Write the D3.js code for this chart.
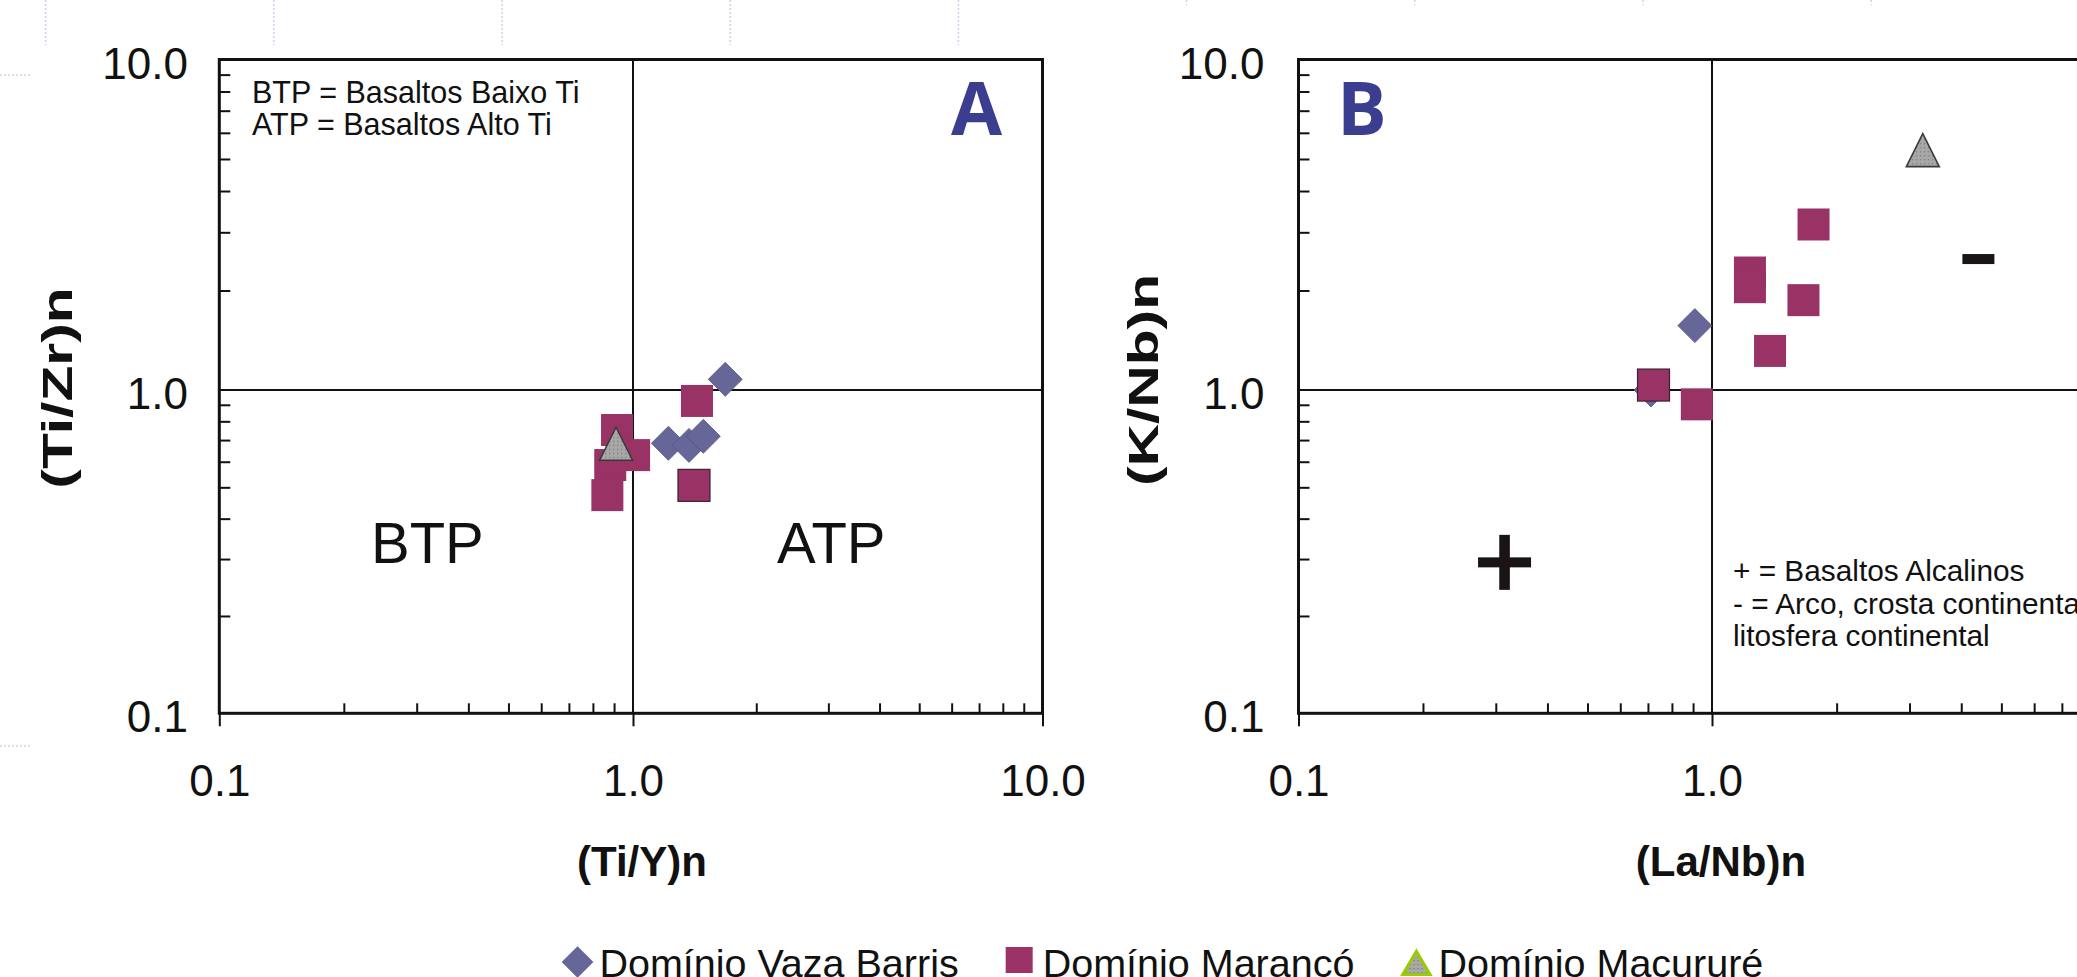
<!DOCTYPE html>
<html><head><meta charset="utf-8">
<script src="https://cdn.jsdelivr.net/npm/d3@7"></script>
<style>html,body{margin:0;padding:0;background:#fff;overflow:hidden}</style>
</head><body>
<svg id="c" width="2077" height="977"></svg>
<script>
// ---------------- DATA ----------------
const seriesNames = ["Domínio Vaza Barris", "Domínio Marancó", "Domínio Macururé"];
const majorTicks = [0.1, 1, 10];
const majorTickLabels = ["0.1", "1.0", "10.0"];
const minorTicks = [0.2, 0.3, 0.4, 0.5, 0.6, 0.7, 0.8, 0.9, 2, 3, 4, 5, 6, 7, 8, 9];

// Panel A: (Ti/Y)n vs (Ti/Zr)n
const plotA_vazaBarris = [[1.68, 1.077], [1.22, 0.684], [1.37, 0.674], [1.485, 0.719]];
const plotA_maranco = [[1.433, 0.925], [0.915, 0.752], [1.006, 0.629], [0.881, 0.586], [0.867, 0.473]];
const plotA_marancoOutlined = [[1.409, 0.507]];
const plotA_macurure = [[0.910, 0.682]];

// Panel B: (La/Nb)n vs (K/Nb)n
const plotB_vazaBarris = [[0.712, 1.0], [0.909, 1.566]];
const plotB_maranco = [[0.919, 0.903], [1.235, 2.267], [1.235, 2.047], [1.381, 1.313], [1.663, 1.870], [1.759, 3.168]];
const plotB_marancoOutlined = [[0.722, 1.035]];
const plotB_macurure = [[3.23, 5.32]];
const plotB_alkaliBasalt = [[0.315, 0.293]];   // "+"
const plotB_arcCrust = [[4.40, 2.49]];         // "-"

const notesA = ["BTP = Basaltos Baixo Ti", "ATP = Basaltos Alto Ti"];
const notesB = ["+ = Basaltos Alcalinos", "- = Arco, crosta continental e", "litosfera continental"];
const regionLabelsA = ["BTP", "ATP"];

// ---------------- STYLE ----------------
const W = 2077, H = 977;
const FONT = "'Liberation Sans', Arial, Helvetica, sans-serif";
const COL_VAZA = "#666699", COL_MAR = "#993366", COL_LETTER = "#3b3d8f";

const svg = d3.select("#c");
const defs = svg.append("defs");
const pat = defs.append("pattern").attr("id", "dots").attr("width", 4).attr("height", 4)
  .attr("patternUnits", "userSpaceOnUse");
pat.append("rect").attr("width", 4).attr("height", 4).attr("fill", "#a8a8a8");
pat.append("rect").attr("x", 1).attr("y", 1).attr("width", 1.3).attr("height", 1.3).attr("fill", "#7c7c7c");

// slide background artefacts (faint dashed guides)
const bg = svg.append("g").attr("stroke", "#c9d3f0").attr("stroke-width", 1.5).attr("stroke-dasharray", "2,2");
d3.range(9).forEach(k => {
  const xx = 45.6 + 228.2 * k;
  bg.append("line").attr("x1", xx).attr("x2", xx).attr("y1", 0).attr("y2", k < 5 ? 45 : 5);
});
bg.append("line").attr("x1", 0).attr("x2", 32).attr("y1", 75).attr("y2", 75);
bg.append("line").attr("x1", 0).attr("x2", 32).attr("y1", 746).attr("y2", 746);

function diamondPath(d) { const h = d / 2; return `M0,${-h}L${h},0L0,${h}L${-h},0Z`; }
function trianglePath(w, h) { return `M0,${-h / 2}L${w / 2},${h / 2}L${-w / 2},${h / 2}Z`; }

const panels = [
  { key: "A", xRange: [219.3, 633, 1042.5], yRange: [713.3, 390, 59.5],
    xTitle: "(Ti/Y)n", yTitle: "(Ti/Zr)n", yLabelGap: 31.3, yTitleX: 72, yTitleY: 388,
    vaza: plotA_vazaBarris, mar: plotA_maranco, marOut: plotA_marancoOutlined, mac: plotA_macurure,
    squaresFirst: true, letterX: 951 },
  { key: "B", xRange: [1298.5, 1712, 2126], yRange: [713.3, 390, 59.5],
    xTitle: "(La/Nb)n", yTitle: "(K/Nb)n", yLabelGap: 34, yTitleX: 1158, yTitleY: 380,
    vaza: plotB_vazaBarris, mar: plotB_maranco, marOut: plotB_marancoOutlined, mac: plotB_macurure,
    squaresFirst: false, letterX: 1337 }
];

panels.forEach(p => {
  const x = d3.scaleLog().domain(majorTicks).range(p.xRange);
  const y = d3.scaleLog().domain(majorTicks).range(p.yRange);
  const g = svg.append("g");
  const x0 = x(0.1), x1 = x(10), yb = y(0.1), yt = y(10);

  // minor ticks (inside)
  g.append("g").attr("transform", `translate(0,${yb})`)
    .call(d3.axisBottom(x).tickValues(minorTicks).tickSize(-10).tickFormat(""))
    .call(s => s.select(".domain").remove())
    .call(s => s.selectAll("line").attr("stroke", "#111").attr("stroke-width", 2));
  g.append("g").attr("transform", `translate(${x0},0)`)
    .call(d3.axisLeft(y).tickValues(minorTicks).tickSize(-11).tickFormat(""))
    .call(s => s.select(".domain").remove())
    .call(s => s.selectAll("line").attr("stroke", "#111").attr("stroke-width", 2));

  // major x ticks + labels
  const xa = g.append("g").attr("transform", `translate(0,${yb})`)
    .call(d3.axisBottom(x).tickValues(majorTicks).tickSize(13).tickPadding(0)
      .tickFormat(d => majorTickLabels[majorTicks.indexOf(d)]));
  xa.select(".domain").remove();
  xa.attr("font-family", FONT).attr("font-size", 44);
  xa.selectAll("line").attr("stroke", "#111").attr("stroke-width", 2);
  xa.selectAll("text").attr("dy", null).attr("y", 83.2).attr("fill", "#111");

  // y labels
  const ya = g.append("g").attr("transform", `translate(${x0},0)`)
    .call(d3.axisLeft(y).tickValues(majorTicks).tickSize(0).tickPadding(0)
      .tickFormat(d => majorTickLabels[majorTicks.indexOf(d)]));
  ya.select(".domain").remove();
  ya.attr("font-family", FONT).attr("font-size", 44);
  ya.selectAll("text").attr("dy", null).attr("x", -p.yLabelGap).attr("y", 18.5).attr("fill", "#111");

  // quadrant lines
  g.append("line").attr("x1", x(1)).attr("x2", x(1)).attr("y1", yt).attr("y2", yb)
    .attr("stroke", "#111").attr("stroke-width", 2);
  g.append("line").attr("x1", x0).attr("x2", x1).attr("y1", y(1)).attr("y2", y(1))
    .attr("stroke", "#111").attr("stroke-width", 2);
  // frame
  g.append("rect").attr("x", x0).attr("y", yt).attr("width", x1 - x0).attr("height", yb - yt)
    .attr("fill", "none").attr("stroke", "#111").attr("stroke-width", 3);

  // markers
  const drawSquares = () => {
    g.append("g").selectAll("rect").data(p.mar).join("rect")
      .attr("x", d => x(d[0]) - 16).attr("y", d => y(d[1]) - 16)
      .attr("width", 32).attr("height", 32).attr("fill", COL_MAR);
    g.append("g").selectAll("rect").data(p.marOut).join("rect")
      .attr("x", d => x(d[0]) - 16).attr("y", d => y(d[1]) - 16)
      .attr("width", 32).attr("height", 32).attr("fill", COL_MAR)
      .attr("stroke", "#3a2230").attr("stroke-width", 1.2);
  };
  const drawDiamonds = () => {
    g.append("g").selectAll("path").data(p.vaza).join("path")
      .attr("d", diamondPath(34))
      .attr("transform", d => `translate(${x(d[0])},${y(d[1])})`)
      .attr("fill", COL_VAZA).attr("stroke", "#55557f").attr("stroke-width", 0.8);
  };
  if (p.squaresFirst) { drawSquares(); drawDiamonds(); } else { drawDiamonds(); drawSquares(); }
  g.append("g").selectAll("path").data(p.mac).join("path")
    .attr("d", trianglePath(33, 33))
    .attr("transform", d => `translate(${x(d[0])},${y(d[1])})`)
    .attr("fill", "url(#dots)").attr("stroke", "#3a3a3a").attr("stroke-width", 1.6)
    .attr("stroke-linejoin", "miter");

  // axis titles
  g.append("text").attr("x", x(1) + 9).attr("y", 876).attr("text-anchor", "middle")
    .attr("font-family", FONT).attr("font-weight", "bold").attr("font-size", 42).attr("fill", "#111")
    .text(p.xTitle);
  g.append("text").attr("transform", `translate(${p.yTitleX},${p.yTitleY}) rotate(-90) scale(1.4,1)`)
    .attr("text-anchor", "middle")
    .attr("font-family", FONT).attr("font-weight", "bold").attr("font-size", 42).attr("fill", "#111")
    .text(p.yTitle);

  // panel letter
  g.append("text").attr("x", p.letterX).attr("y", 135)
    .attr("font-family", "'Open Sans', 'Liberation Sans', Arial, sans-serif").attr("font-weight", "bold")
    .attr("font-size", 74).attr("fill", COL_LETTER).text(p.key);

  p.x = x; p.y = y; p.g = g;
});

// Panel A annotations
{
  const g = panels[0].g;
  g.append("g").selectAll("text").data(notesA).join("text")
    .attr("x", 252).attr("y", (d, i) => 102.5 + i * 32.5)
    .attr("font-family", FONT).attr("font-size", 30.5).attr("fill", "#111").text(d => d);
  g.append("g").selectAll("text").data(regionLabelsA).join("text")
    .attr("x", (d, i) => [371, 777][i]).attr("y", 563)
    .attr("font-family", FONT).attr("font-size", 58).attr("fill", "#111").text(d => d);
}
// Panel B annotations + reference symbols
{
  const p = panels[1], g = p.g, x = p.x, y = p.y;
  g.append("g").selectAll("text").data(notesB).join("text")
    .attr("x", 1733).attr("y", (d, i) => 581 + i * 32.5)
    .attr("font-family", FONT).attr("font-size", 29.8).attr("fill", "#111").text(d => d);
  const plus = g.append("g").selectAll("g").data(plotB_alkaliBasalt).join("g")
    .attr("transform", d => `translate(${x(d[0])},${y(d[1])})`);
  plus.append("rect").attr("x", -26.5).attr("y", -5).attr("width", 53).attr("height", 10).attr("fill", "#1a1414");
  plus.append("rect").attr("x", -5.3).attr("y", -27.5).attr("width", 10.6).attr("height", 55).attr("fill", "#1a1414");
  g.append("g").selectAll("rect").data(plotB_arcCrust).join("rect")
    .attr("x", d => x(d[0]) - 16).attr("y", d => y(d[1]) - 5).attr("width", 32).attr("height", 10)
    .attr("fill", "#1a1414");
}

// Legend
{
  const lg = svg.append("g").attr("font-family", FONT).attr("font-size", 39.5);
  const markerW = [31.7, 27, 30], gapMT = [9, 13, 10];
  let cur = 561.7;
  const cy = 962;
  seriesNames.forEach((name, i) => {
    const cx = cur + markerW[i] / 2;
    if (i === 0) {
      lg.append("path").attr("d", diamondPath(31.7)).attr("transform", `translate(${cx},${cy})`).attr("fill", COL_VAZA);
    } else if (i === 1) {
      lg.append("rect").attr("x", cur).attr("y", cy - 15).attr("width", 27).attr("height", 26).attr("fill", COL_MAR);
    } else {
      lg.append("path").attr("d", trianglePath(27, 23)).attr("transform", `translate(${cx},${cy + 1})`)
        .attr("fill", "url(#dots)").attr("stroke", "#99cc00").attr("stroke-width", 3.2);
    }
    const t = lg.append("text").attr("x", cur + markerW[i] + gapMT[i] - 3).attr("y", 976.5)
      .attr("fill", "#111").text(name);
    cur = cur + markerW[i] + gapMT[i] - 3 + t.node().getComputedTextLength() + 47;
  });
}
</script>
</body></html>
